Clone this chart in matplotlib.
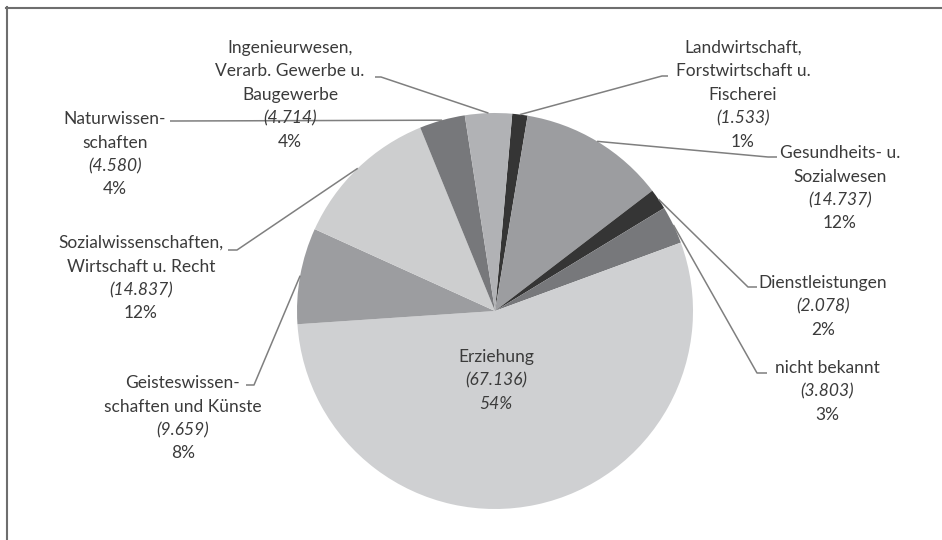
import matplotlib.pyplot as plt
import numpy as np

plt.rcParams['font.family'] = ['Lato', 'DejaVu Sans']

# data, clockwise from the top
names = ['Landwirtschaft,\nForstwirtschaft u.\nFischerei',
         'Gesundheits- u.\nSozialwesen',
         'Dienstleistungen',
         'nicht bekannt',
         'Erziehung',
         'Geisteswissen-\nschaften und Künste',
         'Sozialwissenschaften,\nWirtschaft u. Recht',
         'Naturwissen-\nschaften',
         'Ingenieurwesen,\nVerarb. Gewerbe u.\nBaugewerbe']
values = [1.533, 14.737, 2.078, 3.803, 67.136, 9.659, 14.837, 4.580, 4.714]
value_labels = ['1.533', '14.737', '2.078', '3.803', '67.136', '9.659', '14.837', '4.580', '4.714']
percents = ['1%', '12%', '2%', '3%', '54%', '8%', '12%', '4%', '4%']

colors = ['#353535', '#9c9da0', '#353535', '#77787b', '#cfd0d2',
          '#9c9da0', '#cdcecf', '#77787b', '#b1b2b5']

W, H = 942, 540
# label block centre (x, y of first line) in pixels, plus leader start points
label_pos = [(743, 48), (840, 153), (823, 283), (827, 368), (496, 357),
             (183, 383), (141, 243), (115, 119), (290, 48)]
leader_start = [[(668, 76), (662, 76)],
                [(777, 157), (768, 157)],
                [(757, 287), (748, 287)],
                [(767, 373), (757, 373)],
                None,
                [(246, 385), (254, 385)],
                [(228, 250), (237, 250)],
                [(170, 121), (176, 121)],
                [(375, 77), (381, 77)]]

fig = plt.figure(figsize=(W / 100, H / 100), dpi=100)
ax = fig.add_axes([0, 0, 1, 1])

cx, cy, r = 495, H - 311, 198
wedges, _ = ax.pie(values, colors=colors, startangle=85, counterclock=False,
                   center=(cx, cy), radius=r, wedgeprops=dict(linewidth=0))

ax.set_xlim(0, W)
ax.set_ylim(0, H)
ax.set_aspect('equal')
ax.axis('off')

txt_col = '#3b3b3b'
line_h = 23.5
fs = 12.5
for i, w in enumerate(wedges):
    x0, y0 = label_pos[i]
    lines = names[i].split('\n')
    y = y0
    for ln in lines:
        ax.text(x0, H - y, ln, ha='center', va='center', fontsize=fs, color=txt_col)
        y += line_h
    ax.text(x0, H - y, '(' + value_labels[i] + ')', ha='center', va='center',
            fontsize=fs, color=txt_col, style='italic')
    y += line_h
    ax.text(x0, H - y, percents[i], ha='center', va='center', fontsize=fs,
            color=txt_col, style='italic' if i == 4 else 'normal')
    if leader_start[i] is not None:
        mid = np.deg2rad((w.theta1 + w.theta2) / 2)
        ex, ey = cx + r * np.cos(mid), cy + r * np.sin(mid)
        pts = leader_start[i]
        xs = [p[0] for p in pts] + [ex]
        ys = [H - p[1] for p in pts] + [ey]
        if i in (0, 1, 2, 3):
            xs = [pts[0][0], pts[1][0], ex]
        ax.plot(xs, ys, color='#7f7f7f', lw=1.1, solid_capstyle='butt')

# frame edges that are visible in the source (left and top)
ax.plot([6.5, 6.5], [0, H - 7], color='#6e6e6e', lw=1.5)
ax.plot([6, W], [H - 7.5, H - 7.5], color='#6e6e6e', lw=1.5)

fig.savefig('out.png', dpi=100)
